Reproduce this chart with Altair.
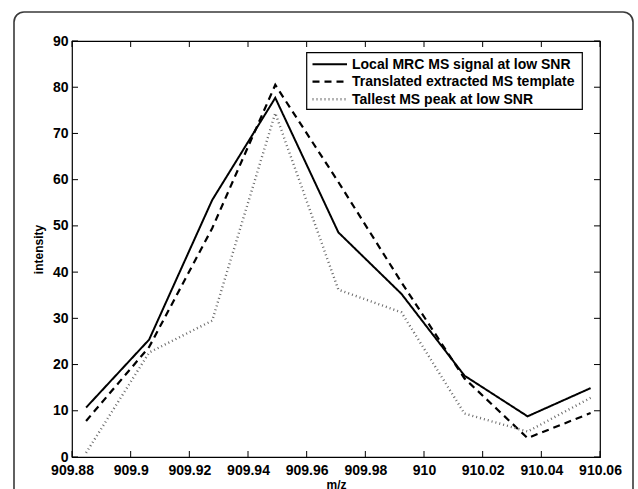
import altair as alt
import pandas as pd

series_names = ["Local MRC MS signal at low SNR",
                "Translated extracted MS template",
                "Tallest MS peak at low SNR"]
mz = [909.8848, 909.9063, 909.9278, 909.9493, 909.9708, 909.9923, 910.0138, 910.0353, 910.0568]
local_mrc = [10.7, 25.4, 55.6, 77.7, 48.6, 35.3, 17.6, 8.8, 14.9]
translated = [7.8, 23.8, 49.5, 80.5, 59.5, 37.8, 17.0, 4.1, 9.5]
tallest = [0.9, 22.6, 29.5, 74.4, 36.2, 31.3, 9.4, 5.5, 12.8]

x_ticks = [909.88, 909.9, 909.92, 909.94, 909.96, 909.98, 910.0, 910.02, 910.04, 910.06]
y_ticks = [0, 10, 20, 30, 40, 50, 60, 70, 80, 90]

rows = []
for name, vals in zip(series_names, [local_mrc, translated, tallest]):
    for x, y in zip(mz, vals):
        rows.append({"series": name, "mz": x, "intensity": y})
df = pd.DataFrame(rows)

W, H = 528, 416
FONT = "Liberation Sans"

xscale = alt.Scale(domain=[909.88, 910.06], nice=False, zero=False)
yscale = alt.Scale(domain=[0, 90], nice=False)
color_scale = alt.Scale(domain=series_names, range=["black", "black", "#6a6a6a"])
dash_scale = alt.Scale(domain=series_names, range=[[1, 0], [7, 5], [1, 3]])
width_scale = alt.Scale(domain=series_names, range=[2, 2.4, 1.2])

style = dict(
    color=alt.Color("series:N", scale=color_scale, legend=None),
    strokeDash=alt.StrokeDash("series:N", scale=dash_scale, legend=None),
    strokeWidth=alt.StrokeWidth("series:N", scale=width_scale, legend=None),
)

lines = alt.Chart(df).mark_line(clip=False).encode(
    x=alt.X("mz:Q", scale=xscale, title="m/z",
            axis=alt.Axis(values=x_ticks, format="~r", domain=False, ticks=False, grid=False,
                          labelPadding=6, titlePadding=2, labelFontSize=14, labelFontWeight="bold",
                          titleFontSize=12, titleFontWeight="bold", labelFont=FONT, titleFont=FONT,
                          labelColor="black", titleColor="black", labelFlush=False)),
    y=alt.Y("intensity:Q", scale=yscale, title="intensity",
            axis=alt.Axis(values=y_ticks, domain=False, ticks=False, grid=False,
                          labelPadding=4, titlePadding=7, labelFontSize=14, labelFontWeight="bold",
                          titleFontSize=12, titleFontWeight="bold", labelFont=FONT, titleFont=FONT,
                          labelColor="black", titleColor="black")),
    **style,
)

xt = pd.DataFrame({"v": x_ticks})
yt = pd.DataFrame({"v": y_ticks})
tick_len = 6
xb = alt.Chart(xt).mark_rule(color="black", strokeWidth=1).encode(
    x=alt.X("v:Q", scale=xscale), y=alt.value(H), y2=alt.value(H - tick_len))
xtp = alt.Chart(xt).mark_rule(color="black", strokeWidth=1).encode(
    x=alt.X("v:Q", scale=xscale), y=alt.value(0), y2=alt.value(tick_len))
yl = alt.Chart(yt).mark_rule(color="black", strokeWidth=1).encode(
    y=alt.Y("v:Q", scale=yscale), x=alt.value(0), x2=alt.value(tick_len))
yr = alt.Chart(yt).mark_rule(color="black", strokeWidth=1).encode(
    y=alt.Y("v:Q", scale=yscale), x=alt.value(W), x2=alt.value(W - tick_len))

frame = alt.Chart(pd.DataFrame({"a": [0]})).mark_rect(
    fillOpacity=0, stroke="#3a3a3a", strokeWidth=1.6, cornerRadius=10, clip=False).encode(
    x=alt.value(-58), x2=alt.value(561), y=alt.value(-29), y2=alt.value(470))

# legend (manual, drawn inside the plot)
leg_box = alt.Chart(pd.DataFrame({"a": [0]})).mark_rect(
    fill="white", stroke="black", strokeWidth=1.2, clip=False).encode(
    x=alt.value(234.7), x2=alt.value(510.3), y=alt.value(11.7), y2=alt.value(68.3))
legend_layers = [leg_box]
row_y = [23.3, 40.7, 58.3]
for name, yy in zip(series_names, row_y):
    d = pd.DataFrame({"series": [name]})
    legend_layers.append(
        alt.Chart(d).mark_rule(clip=False).encode(
            x=alt.value(240.5), x2=alt.value(275), y=alt.value(yy), **style))
    legend_layers.append(
        alt.Chart(d).mark_text(align="left", baseline="middle", font=FONT, fontSize=14,
                               fontWeight="bold", color="black", clip=False).encode(
            x=alt.value(280), y=alt.value(yy + 0.5), text="series:N"))

chart = alt.layer(frame, lines, xb, xtp, yl, yr, *legend_layers).properties(
    width=W, height=H,
    autosize=alt.AutoSizeParams(type="none"),
    padding={"left": 72, "top": 41, "right": 38, "bottom": 32},
    background="white",
).configure_view(stroke="black", strokeWidth=1.2)

chart.save("out.html", embed_options={"renderer": "svg", "actions": False})
